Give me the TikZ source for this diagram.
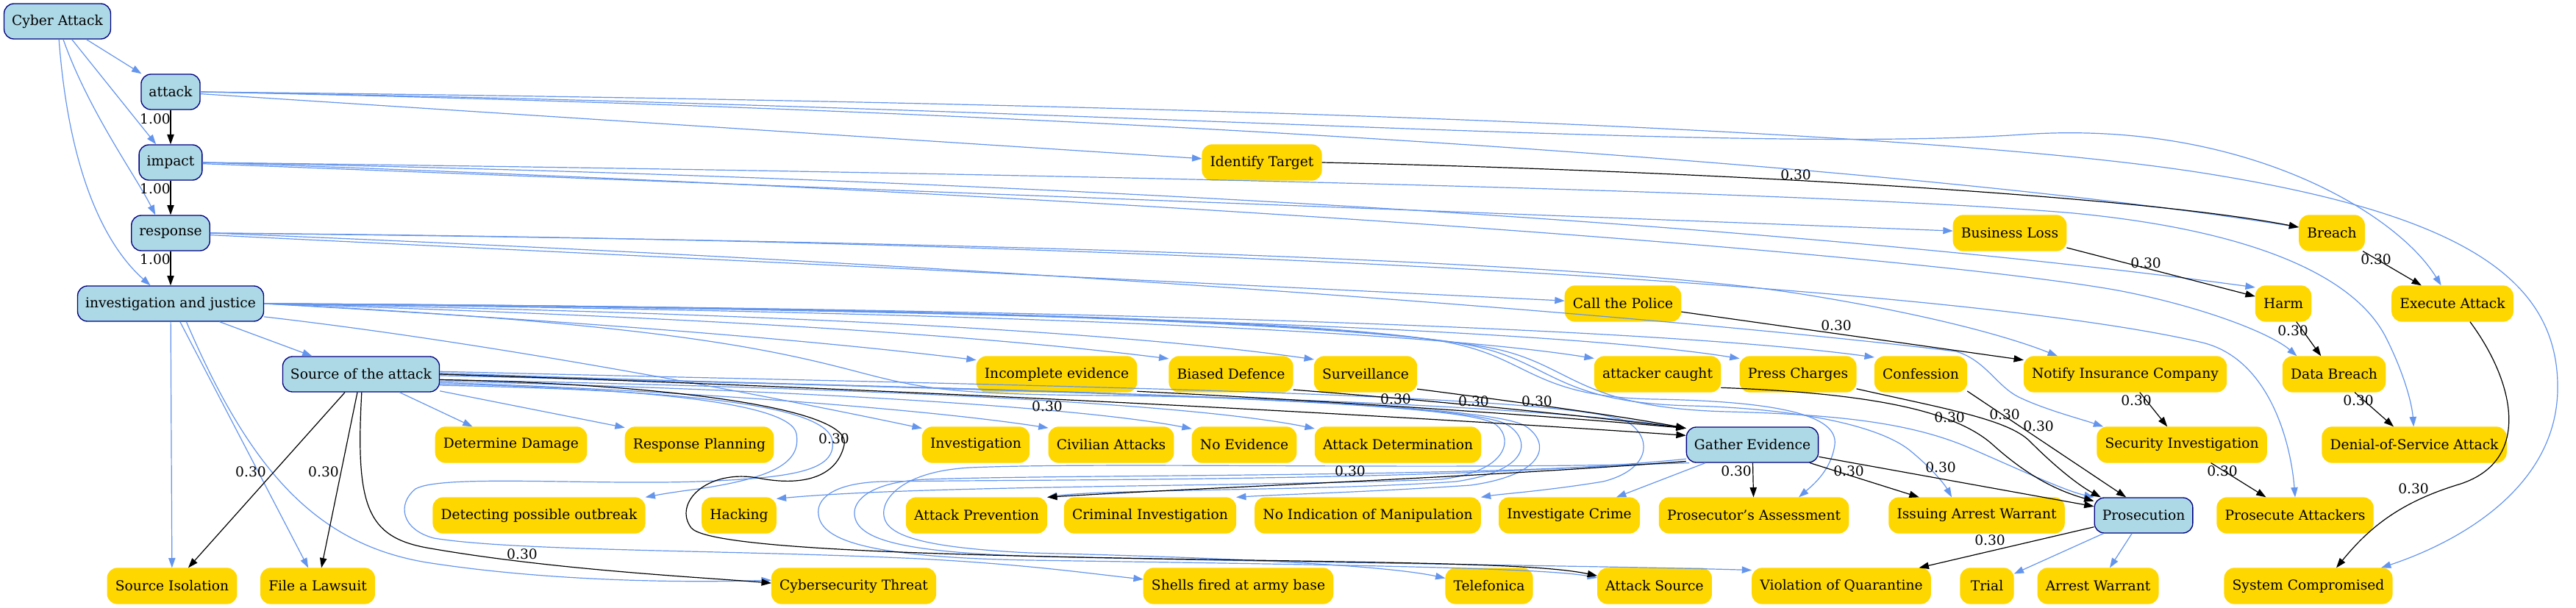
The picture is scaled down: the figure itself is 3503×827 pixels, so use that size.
\documentclass[tikz,border=0pt]{standalone}
\usepackage{fontspec}
\setmainfont{DejaVu Serif}
\usetikzlibrary{arrows.meta}
\definecolor{cblue}{HTML}{6495ED}
\definecolor{lblue}{HTML}{ADD8E6}
\definecolor{navyc}{HTML}{000080}
\definecolor{goldc}{HTML}{FFD700}
\begin{document}
\begin{tikzpicture}[x=0.75pt,y=-0.75pt,
  font=\fontsize{14pt}{16pt}\selectfont,
  basebox/.style={rounded corners=10pt, minimum height=36pt, minimum width=54pt, inner xsep=7.92pt, inner ysep=0pt},
  bn/.style={basebox, draw=navyc, line width=1pt, fill=lblue},
  yn/.style={basebox, draw=goldc, line width=1pt, fill=goldc},
  tb/.style={draw=cblue, line width=0.9pt, -{Triangle[length=10pt,width=7pt]}},
  tk/.style={draw=black, line width=0.9pt, -{Triangle[length=10pt,width=7pt]}},
  lbl/.style={inner sep=0pt}]
\useasboundingbox (0,0) rectangle (3503,827);
% category nodes
\node[bn] (ca) at (78,29) {Cyber Attack};
\node[bn] (attack) at (232,125) {attack};
\node[bn] (impact) at (232,221) {impact};
\node[bn] (response) at (232,317) {response};
\node[bn] (inv) at (232,413) {investigation and justice};
\node[bn] (src) at (491,509) {Source of the attack};
\node[bn] (ge) at (2383,605) {Gather Evidence};
\node[bn] (pros) at (2915,701) {Prosecution};
% leaves
\node[yn] (idt) at (1716,221) {Identify Target};
\node[yn] (bl) at (2733,317) {Business Loss};
\node[yn] (breach) at (3171,317) {Breach};
\node[yn] (police) at (2207,413) {Call the Police};
\node[yn] (harm) at (3105,413) {Harm};
\node[yn] (exec) at (3335,413) {Execute Attack};
\node[yn] (incomplete) at (1437,509) {Incomplete evidence};
\node[yn] (biased) at (1674,509) {Biased Defence};
\node[yn] (surv) at (1857,509) {Surveillance};
\node[yn] (caught) at (2254,509) {attacker caught};
\node[yn] (press) at (2445,509) {Press Charges};
\node[yn] (conf) at (2612,509) {Confession};
\node[yn] (notify) at (2890,509) {Notify Insurance Company};
\node[yn] (databreach) at (3174,509) {Data Breach};
\node[yn] (dd) at (695,605) {Determine Damage};
\node[yn] (rp) at (951,605) {Response Planning};
\node[yn] (invest) at (1327,605) {Investigation};
\node[yn] (civ) at (1511,605) {Civilian Attacks};
\node[yn] (noev) at (1692,605) {No Evidence};
\node[yn] (ad) at (1901,605) {Attack Determination};
\node[yn] (secinv) at (2967,605) {Security Investigation};
\node[yn] (dos) at (3283,605) {Denial-of-Service Attack};
\node[yn] (dpo) at (733,701) {Detecting possible outbreak};
\node[yn] (hack) at (1005,701) {Hacking};
\node[yn] (ap) at (1328,701) {Attack Prevention};
\node[yn] (ci) at (1564,701) {Criminal Investigation};
\node[yn] (nim) at (1860,701) {No Indication of Manipulation};
\node[yn] (ic) at (2134,701) {Investigate Crime};
\node[yn] (pa) at (2385,701) {Prosecutor's Assessment};
\node[yn] (iaw) at (2688,701) {Issuing Arrest Warrant};
\node[yn] (pat) at (3121,701) {Prosecute Attackers};
\node[yn] (si) at (234,797) {Source Isolation};
\node[yn] (fl) at (432,797) {File a Lawsuit};
\node[yn] (ct) at (1161,797) {Cybersecurity Threat};
\node[yn] (shells) at (1684,797) {Shells fired at army base};
\node[yn] (tel) at (2025,797) {Telefonica};
\node[yn] (as) at (2250,797) {Attack Source};
\node[yn] (voq) at (2504,797) {Violation of Quarantine};
\node[yn] (trial) at (2702,797) {Trial};
\node[yn] (aw) at (2853,797) {Arrest Warrant};
\node[yn] (sc) at (3139,797) {System Compromised};

% ---------------- blue hierarchy edges ----------------
\draw[tb] (ca) -- (attack);
\draw[tb] (ca) -- (impact);
\draw[tb] (ca.-72) .. controls (120,150) and (185,240) .. (response.130);
\draw[tb] (ca.-85) .. controls (95,250) and (150,340) .. (inv.138);
% attack
\draw[tb] (attack) -- (idt);
\draw[tb] (attack.east) .. controls (1500,150) and (2600,225) .. (breach.170);
\draw[tb] (attack.east) .. controls (1500,145) and (2350,210) .. (2750,183) .. controls (3050,162) and (3260,290) .. (exec.122);
\draw[tb] (attack.east) .. controls (1500,138) and (2600,172) .. (3000,236) .. controls (3350,292) and (3480,380) .. (3478,530) .. controls (3476,660) and (3350,735) .. (sc.14);
% impact
\draw[tb] (impact) -- (bl);
\draw[tb] (impact.east) .. controls (1300,240) and (2400,300) .. (harm.150);
\draw[tb] (impact.east) .. controls (1500,262) and (2600,345) .. (2880,395) .. controls (3000,418) and (3090,455) .. (databreach.154);
\draw[tb] (impact.east) .. controls (1500,236) and (2500,262) .. (2820,290) .. controls (3050,312) and (3200,370) .. (3245,460) .. controls (3270,510) and (3280,550) .. (dos.92);
% response
\draw[tb] (response) -- (police);
\draw[tb] (response.east) .. controls (1500,330) and (2200,360) .. (2450,400) .. controls (2650,432) and (2750,465) .. (notify.165);
\draw[tb] (response.east) .. controls (1500,365) and (2350,440) .. (2660,478) .. controls (2700,490) and (2715,525) .. (2745,540) .. controls (2780,557) and (2830,570) .. (secinv.167);
\draw[tb] (response.east) .. controls (1500,326) and (2650,385) .. (2995,466) .. controls (3085,488) and (3115,600) .. (pat.north);
% investigation and justice
\draw[tb] (inv) -- (src);
\draw[tb] (inv) -- (si);
\draw[tb] (inv) -- (fl);
\draw[tb] (inv.-49) .. controls (340,640) and (430,740) .. (580,765) .. controls (740,790) and (920,793) .. (ct.176);
\draw[tb] (inv.-8) .. controls (700,470) and (1100,550) .. (invest.163);
\draw[tb] (inv.east) .. controls (800,438) and (1100,462) .. (incomplete.170);
\draw[tb] (inv.east) .. controls (900,430) and (1300,452) .. (biased.166);
\draw[tb] (inv.east) .. controls (1000,425) and (1500,448) .. (surv.164);
\draw[tb] (inv.east) .. controls (1200,422) and (1900,445) .. (caught.166);
\draw[tb] (inv.east) .. controls (1300,420) and (2100,445) .. (press.165);
\draw[tb] (inv.east) .. controls (1400,418) and (2250,445) .. (conf.160);
\draw[tb] (inv.east) .. controls (900,440) and (1050,475) .. (1175,508) .. controls (1260,530) and (1300,536) .. (1500,538) .. controls (1800,541) and (2150,560) .. (ge.166);
\draw[tb] (inv.east) .. controls (1300,418) and (1850,438) .. (1980,468) .. controls (2080,490) and (2090,540) .. (2250,543) .. controls (2420,546) and (2500,565) .. (2495,605) .. controls (2490,640) and (2465,660) .. (pa.22);
\draw[tb] (inv.east) .. controls (1350,418) and (1880,442) .. (2010,472) .. controls (2110,495) and (2120,548) .. (2300,552) .. controls (2450,556) and (2560,580) .. (2600,615) .. controls (2630,640) and (2645,660) .. (iaw.144);
\draw[tb] (inv.east) .. controls (1400,418) and (1910,446) .. (2040,476) .. controls (2140,500) and (2150,555) .. (2350,560) .. controls (2500,564) and (2600,575) .. (2680,610) .. controls (2760,645) and (2810,668) .. (pros.north west);
% source of the attack
\draw[tb] (src) -- (dd);
\draw[tb] (src.-12) -- (rp.167);
\draw[tb] (src.-6) .. controls (900,530) and (1250,555) .. (civ.165);
\draw[tb] (src.-5) .. controls (1000,528) and (1450,550) .. (noev.163);
\draw[tb] (src.-4) .. controls (1100,526) and (1600,545) .. (ad.169);
\draw[tb] (src.-7) .. controls (850,528) and (1075,545) .. (1083,590) .. controls (1090,630) and (1050,650) .. (950,665) .. controls (910,670) and (890,674) .. (dpo.north east);
\draw[tb] (src.-8) .. controls (880,530) and (1125,545) .. (1132,600) .. controls (1137,640) and (1080,650) .. (950,655) .. controls (800,660) and (600,645) .. (565,665) .. controls (540,685) and (545,720) .. (590,732) .. controls (700,750) and (1000,748) .. (1250,760) .. controls (1400,768) and (1480,780) .. (shells.176);
\draw[tb] (src.1) .. controls (1200,530) and (1950,538) .. (2030,575) .. controls (2058,590) and (2058,640) .. (1960,652) .. controls (1700,662) and (1250,660) .. (hack.24);
\draw[tb] (src.0) .. controls (1250,528) and (1990,540) .. (2050,578) .. controls (2082,598) and (2082,640) .. (1980,655) .. controls (1800,668) and (1500,665) .. (ap.north east);
\draw[tb] (src.-1) .. controls (1300,528) and (2020,542) .. (2075,580) .. controls (2108,602) and (2105,645) .. (2000,660) .. controls (1850,670) and (1750,672) .. (ci.north east);
\draw[tb] (src.2) .. controls (1400,525) and (2150,535) .. (2215,575) .. controls (2250,600) and (2240,640) .. (2180,655) .. controls (2100,668) and (2040,672) .. (nim.north east);
% gather evidence
\draw[tb] (ge) -- (ic);
\draw[tb] (ge.196) .. controls (2000,640) and (1500,628) .. (1320,636) .. controls (1225,641) and (1198,680) .. (1202,702) .. controls (1206,730) and (1260,745) .. (1400,752) .. controls (1650,758) and (1880,768) .. (tel.170);
\draw[tb] (ge.194) .. controls (2000,650) and (1450,645) .. (1260,652) .. controls (1185,655) and (1160,680) .. (1162,700) .. controls (1165,735) and (1230,752) .. (1420,757) .. controls (1800,766) and (2200,770) .. (voq.170);
\draw[tb] (ge.192) .. controls (2000,655) and (1400,652) .. (1200,655) .. controls (1130,657) and (1110,680) .. (1113,700) .. controls (1117,735) and (1180,758) .. (1400,762) .. controls (1800,768) and (2100,772) .. (as.172);
% prosecution
\draw[tb] (pros) -- (trial);
\draw[tb] (pros) -- (aw);

% ---------------- black weighted edges ----------------
\draw[tk] (attack) -- (impact);
\node[lbl] at (211,162) {1.00};
\draw[tk] (impact) -- (response);
\node[lbl] at (211,257) {1.00};
\draw[tk] (response) -- (inv);
\node[lbl] at (211,353) {1.00};
\draw[tk] (idt.east) .. controls (2300,232) and (2900,265) .. (breach.170);
\node[lbl] at (2442,238) {0.30};
\draw[tk] (breach) -- (exec);
\node[lbl] at (3231,353) {0.30};
\draw[tk] (bl) -- (harm);
\node[lbl] at (2918,358) {0.30};
\draw[tk] (harm) -- (databreach);
\node[lbl] at (3118,450) {0.30};
\draw[tk] (databreach) -- (dos);
\node[lbl] at (3207,545) {0.30};
\draw[tk] (exec.-46) .. controls (3420,520) and (3445,630) .. (3340,660) .. controls (3260,685) and (3220,720) .. (sc.33);
\node[lbl] at (3282,665) {0.30};
\draw[tk] (police) -- (notify);
\node[lbl] at (2497,443) {0.30};
\draw[tk] (notify) -- (secinv);
\node[lbl] at (2905,545) {0.30};
\draw[tk] (secinv) -- (pat);
\node[lbl] at (3022,641) {0.30};
\draw[tk] (src.east) .. controls (1200,528) and (1900,565) .. (ge.172);
\node[lbl] at (1424,553) {0.30};
\draw[tk] (incomplete.-12) .. controls (1800,545) and (2100,565) .. (ge.166);
\node[lbl] at (1898,543) {0.30};
\draw[tk] (biased.-14) .. controls (1950,545) and (2150,565) .. (ge.166);
\node[lbl] at (2004,546) {0.30};
\draw[tk] (surv.-16) .. controls (2050,545) and (2200,565) .. (ge.166);
\node[lbl] at (2090,546) {0.30};
\draw[tk] (ge) -- (pa);
\node[lbl] at (2361,641) {0.30};
\draw[tk] (ge) -- (iaw);
\node[lbl] at (2514,641) {0.30};
\draw[tk] (ge) -- (pros);
\node[lbl] at (2639,636) {0.30};
\draw[tk] (ge.194) .. controls (2000,650) and (1600,665) .. (ap.north east);
\node[lbl] at (1836,641) {0.30};
\draw[tk] (caught.-12) .. controls (2550,535) and (2660,560) .. (2710,605) .. controls (2760,650) and (2800,668) .. (pros.164);
\node[lbl] at (2651,568) {0.30};
\draw[tk] (press.-14) .. controls (2640,555) and (2730,570) .. (2760,600) .. controls (2800,640) and (2830,662) .. (pros.157);
\node[lbl] at (2726,564) {0.30};
\draw[tk] (conf.-20) -- (pros.134);
\node[lbl] at (2772,580) {0.30};
\draw[tk] (pros) -- (voq);
\node[lbl] at (2706,735) {0.30};
\draw[tk] (src) -- (si);
\node[lbl] at (341,642) {0.30};
\draw[tk] (src) -- (fl);
\node[lbl] at (440,642) {0.30};
\draw[tk] (src.-88) .. controls (483,690) and (500,730) .. (580,745) .. controls (750,775) and (950,785) .. (ct.178);
\node[lbl] at (710,754) {0.30};
\draw[tk] (src.-4) .. controls (900,522) and (1160,555) .. (1148,605) .. controls (1138,650) and (1090,662) .. (1030,650) .. controls (960,638) and (915,685) .. (940,718) .. controls (965,748) and (1300,756) .. (1700,762) .. controls (1950,766) and (2100,768) .. (as.170);
\node[lbl] at (1134,597) {0.30};
\end{tikzpicture}
\end{document}
